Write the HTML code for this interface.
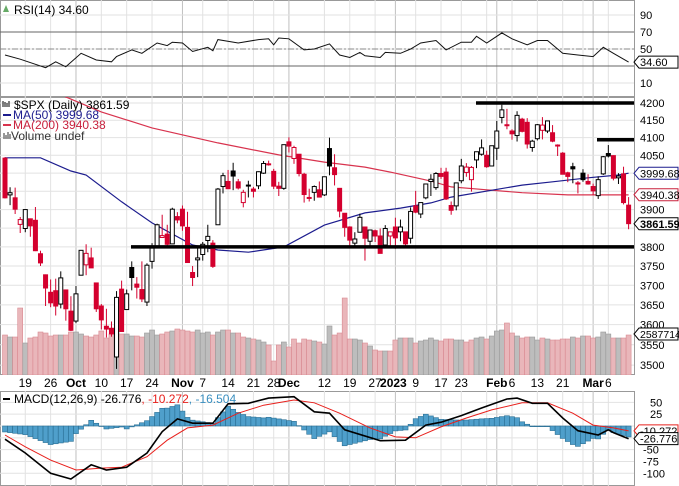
<!DOCTYPE html>
<html><head><meta charset="utf-8">
<style>
html,body{margin:0;padding:0;background:#fff;}
svg{display:block;font-family:"Liberation Sans","DejaVu Sans",sans-serif;}
</style></head>
<body>
<svg id="chart" width="679" height="486" viewBox="0 0 679 486" xmlns="http://www.w3.org/2000/svg"></svg>
<script>
// ---- data ----
const dates = ["Sep13","Sep14","Sep15","Sep16","Sep19","Sep20","Sep21","Sep22","Sep23","Sep26","Sep27","Sep28","Sep29","Sep30",
"Oct3","Oct4","Oct5","Oct6","Oct7","Oct10","Oct11","Oct12","Oct13","Oct14","Oct17","Oct18","Oct19","Oct20","Oct21","Oct24","Oct25","Oct26","Oct27","Oct28","Oct31",
"Nov1","Nov2","Nov3","Nov4","Nov7","Nov8","Nov9","Nov10","Nov11","Nov14","Nov15","Nov16","Nov17","Nov18","Nov21","Nov22","Nov23","Nov25","Nov28","Nov29","Nov30",
"Dec1","Dec2","Dec5","Dec6","Dec7","Dec8","Dec9","Dec12","Dec13","Dec14","Dec15","Dec16","Dec19","Dec20","Dec21","Dec22","Dec23","Dec27","Dec28","Dec29","Dec30",
"Jan3","Jan4","Jan5","Jan6","Jan9","Jan10","Jan11","Jan12","Jan13","Jan17","Jan18","Jan19","Jan20","Jan23","Jan24","Jan25","Jan26","Jan27","Jan30","Jan31",
"Feb1","Feb2","Feb3","Feb6","Feb7","Feb8","Feb9","Feb10","Feb13","Feb14","Feb15","Feb16","Feb17","Feb21","Feb22","Feb23","Feb24","Feb27","Feb28",
"Mar1","Mar2","Mar3","Mar6","Mar7","Mar8","Mar9","Mar10"];
const opens = [4042,3940,3932,3860,3849,3875,3871,3782,3727,3682,3686,3652,3688,3634,
3609,3726,3753,3771,3706,3647,3596,3591,3520,3690,3638,3746,3703,3689,3657,3762,3799,3825,3834,3808,3881,
3901,3852,3733,3766,3780,3817,3810,3859,3963,3977,4006,3976,3919,3967,3956,3965,4000,4024,4005,3964,3958,
4088,4041,4053,3997,3933,3947,3954,3940,4069,4015,3958,3890,3853,3810,3839,3853,3815,3843,3829,3805,3829,
3853,3840,3840,3823,3910,3888,3932,3977,3960,3999,4003,3911,3910,3979,4002,3982,4037,4053,4050,4020,
4070,4158,4137,4119,4106,4153,4144,4072,4097,4121,4119,4114,4077,4056,4001,4018,3973,4000,3977,
3963,3938,3998,4055,4049,3987,3998,3912];
const highs = [4045,3961,3960,3880,3900,3876,3907,3790,3728,3715,3717,3736,3688,3672,
3698,3792,3807,3798,3706,3652,3640,3608,3685,3712,3689,3762,3721,3762,3757,3810,3862,3886,3859,3905,3893,
3911,3894,3750,3796,3813,3859,3818,3959,4001,4009,4029,3984,3954,3979,3962,4005,4034,4035,4012,3976,4080,
4101,4077,4053,4001,3957,3966,3977,3990,4100,4053,3959,3890,3855,3839,3889,3853,3846,3846,3849,3858,3840,
3878,3873,3840,3906,3951,3919,3970,3997,4003,4015,4015,3922,3973,4040,4028,4020,4060,4095,4063,4077,
4148,4195,4183,4124,4176,4157,4156,4094,4139,4159,4149,4136,4081,4059,4004,4029,3978,4011,3997,
3971,3991,4048,4079,4050,4000,4018,3934];
const lows = [3930,3912,3888,3837,3839,3827,3789,3750,3647,3644,3623,3641,3610,3584,
3604,3726,3726,3745,3632,3588,3568,3570,3491,3584,3638,3687,3666,3657,3647,3743,3799,3824,3803,3808,3863,
3843,3758,3698,3721,3764,3786,3745,3859,3944,3956,3953,3955,3906,3933,3933,3956,3998,4021,3956,3937,3954,
4058,4026,3991,3919,3922,3924,3933,3937,3994,3966,3879,3827,3800,3797,3839,3764,3797,3813,3783,3805,3801,
3795,3815,3802,3809,3890,3877,3928,3937,3954,3984,3926,3886,3898,3972,3990,3949,4014,4049,4015,4020,
4037,4141,4124,4094,4089,4115,4069,4060,4092,4095,4113,4087,4048,3997,3975,3972,3944,3976,3968,
3940,3929,3995,4044,3980,3970,3914,3847];
const closes = [3932,3946,3901,3873,3900,3856,3790,3758,3693,3655,3647,3719,3640,3586,
3678,3791,3783,3745,3640,3612,3589,3577,3669,3583,3678,3720,3695,3665,3752,3797,3859,3830,3807,3901,3872,
3856,3759,3720,3771,3807,3828,3749,3956,3993,3957,3992,3959,3947,3965,3950,4004,4027,4026,3964,3958,4080,
4076,4072,3999,3941,3933,3963,3934,3990,4020,3996,3896,3852,3818,3821,3879,3823,3845,3829,3783,3849,3840,
3824,3853,3808,3895,3893,3919,3970,3983,3999,3991,3929,3898,3973,4020,4017,4016,4060,4071,4018,4077,
4119,4180,4136,4111,4164,4118,4082,4090,4137,4136,4148,4090,4079,3997,3991,4012,3970,3982,3970,
3951,3982,4046,4048,3986,3992,3919,3862];
const volumes = [40,38,38,67,32,37,38,43,42,39,40,40,40,43,
43,41,39,38,40,44,37,41,46,41,41,39,39,38,42,45,40,41,43,44,46,
45,44,43,45,42,43,40,43,45,45,42,42,38,37,36,35,33,30,14,30,33,
28,36,32,36,35,34,33,31,49,40,42,77,36,36,35,32,29,25,24,24,24,
35,37,37,37,32,34,35,37,35,34,36,36,35,35,33,35,37,38,36,39,
44,45,52,42,39,37,38,38,35,37,36,35,35,36,36,38,37,39,39,
37,38,43,41,37,37,37,40];
const ma50Idx = [0,7,13,16,23,29,37,42,48,55,63,71,78,84,88,102,108,115,121,123];
const ma50Val = [4043,4043,4006,3995,3921,3864,3805,3792,3786,3800,3858,3891,3904,3918,3934,3967,3976,3987,3995,4000];
const ma200Idx = [0,12,19,29,42,54,63,71,76,84,88,95,102,111,121,123];
const ma200Val = [4290,4218,4174,4128,4085,4051,4031,4017,4003,3978,3962,3954,3946,3940,3940,3940];
const rsiIdx = [0,3,8,10,12,15,18,21,22,25,27,30,32,33,35,37,40,41,42,46,50,52,53,54,56,59,61,64,66,68,70,71,74,75,78,80,82,85,87,90,92,93,95,98,100,103,105,107,110,113,116,118,120,123];
const rsiVal = [43,38,28,35,29,45,37,35,41,49,45,57,54,58,57,47,52,48,61,57,61,62,55,63,62,49,50,56,43,40,46,42,40,46,45,50,57,60,49,58,58,65,57,69,62,55,60,60,45,43,41,52,45,34.6];
const macdIdx = [0,4,9,13,17,20,24,28,31,34,37,41,44,48,52,57,61,64,67,74,79,83,86,90,94,99,101,104,107,110,113,117,119,120,123];
const macdVal = [-28,-57,-100,-112,-82,-93,-87,-57,-12,15,6,6,47,48,59,62,30,27,-8,-31,-30,2,8,22,38,57,59,48,48,17,-10,-19,-8,-14,-26.8];
const sigIdx = [0,4,9,14,19,23,28,32,36,41,46,51,57,61,66,72,77,81,86,91,96,102,107,112,116,120,123];
const sigVal = [-19,-44,-72,-93,-89,-87,-65,-30,-4,2,27,44,55,49,27,-4,-23,-25,-2,17,34,49,49,27,2,-4,-10.3];
const rsiTicks = [90,70,50,10];
const priceTicks = [4200,4150,4100,4050,4000,3950,3900,3850,3800,3750,3700,3650,3600,3550,3500];
const priceTickShown = [4200,4150,4100,4050,3900,3800,3750,3700,3650,3600,3550,3500];
const macdTicks = [50,25,0,-25,-50,-75,-100];
const macdTickShown = [50,25,-50,-75,-100];
const xLabels = [[4,"19",0],[9,"26",0],[14,"Oct",1],[19,"10",0],[24,"17",0],[29,"24",0],[35,"Nov",1],[39,"7",0],[44,"14",0],[49,"21",0],[53,"28",0],[56,"Dec",1],[63,"12",0],[68,"19",0],[73,"27",0],[77,"2023",1],[81,"9",0],[86,"17",0],[90,"23",0],[97,"Feb",1],[100,"6",0],[105,"13",0],[110,"21",0],[116,"Mar",1],[119,"6",0]];
const weekIdx = [4,9,19,24,29,39,44,49,53,63,68,73,81,86,90,95,100,105,110,114,119];
const monthIdx = [14,35,56,77,97,116];

// ---- layout ----
const NS="http://www.w3.org/2000/svg";
const svg=document.getElementById('chart');
const PR=634;
const X=i=>5+i*5.07;
const yP=p=>103+1438*Math.log(4200/p);
const yR=v=>49-(v-50)*0.85;
const yM=v=>426-v*0.473;
const yV=v=>375-v;
function mk(tag,attrs,parent){const e=document.createElementNS(NS,tag);for(const k in attrs)e.setAttribute(k,attrs[k]);(parent||svg).appendChild(e);return e;}
function txt(x,y,s,attrs,parent){const t=mk('text',Object.assign({x:x,y:y,'font-size':12,fill:'#000'},attrs||{}),parent);t.textContent=s;return t;}
function interp(idx,val,i){for(let k=0;k<idx.length-1;k++){if(i>=idx[k]&&i<=idx[k+1]){const f=(i-idx[k])/((idx[k+1]-idx[k])||1);return val[k]+f*(val[k+1]-val[k]);}}return val[val.length-1];}

const defs=mk('defs',{});
const c1=mk('clipPath',{id:'cp'},defs);mk('rect',{x:0,y:97,width:PR,height:278},c1);
const c2=mk('clipPath',{id:'cm'},defs);mk('rect',{x:0,y:391,width:PR,height:95},c2);

const panels=[['rsi-panel',0,97],['price-panel',97,278],['macd-panel',391,95]];
panels.forEach(p=>{const r=mk('rect',{x:0.5,y:p[1]+0.5,width:PR,height:p[2]-1,fill:'#fff',stroke:'#999'});});

const gridG=mk('g',{});

weekIdx.forEach(i=>{[[0,97],[97,375],[391,486]].forEach(s=>{mk('line',{x1:X(i),x2:X(i),y1:s[0],y2:s[1],stroke:'#e2e2e2'},gridG);});});
monthIdx.forEach(i=>{[[0,97],[97,375],[391,486]].forEach(s=>{mk('line',{x1:X(i),x2:X(i),y1:s[0],y2:s[1],stroke:'#c0c0c0'},gridG);});});

// RSI panel
rsiTicks.concat([30]).forEach(v=>{mk('line',{x1:0,x2:PR,y1:yR(v),y2:yR(v),stroke:'#e2e2e2'});});
[70,30].forEach(v=>{const l=mk('line',{x1:0,x2:PR,y1:yR(v),y2:yR(v),stroke:'#666'});});
const mid=mk('line',{x1:0,x2:PR,y1:yR(50),y2:yR(50),stroke:'#888','stroke-dasharray':'6,2,2,2'});

rsiTicks.forEach(v=>{const t=txt(640,yR(v)+4,String(v),{'font-size':11});});
let rp='';rsiIdx.forEach((i,k)=>{rp+=(k?'L':'M')+X(i).toFixed(1)+','+yR(rsiVal[k]).toFixed(1);});
const rl=mk('path',{d:rp,fill:'none',stroke:'#111','stroke-width':1});

const rsiTitle=txt(14,14,'RSI(14) 34.60');

mk('path',{d:'M3,12 L6,5 L9,12 Z',fill:'#6a6'});

// price grid
priceTicks.forEach(v=>{mk('line',{x1:0,x2:PR,y1:yP(v),y2:yP(v),stroke:'#e2e2e2'});});
priceTickShown.forEach(v=>{const t=txt(640,yP(v)+4,String(v),{'font-size':11});});

// volume
const vg=mk('g',{'clip-path':'url(#cp)'});

volumes.forEach((v,i)=>{const up=i===0?false:closes[i]>=closes[i-1];
 const r=mk('rect',{x:X(i)-2.5,y:yV(v),width:5,height:v,fill:up?'#bdbdbd':'#e9b6ba',stroke:up?'#9a9a9a':'#d98a92','stroke-width':0.6},vg);
 });

function ml(idx,val,color,name){let d='';idx.forEach((i,k)=>{d+=(k?'L':'M')+X(i).toFixed(1)+','+yP(val[k]).toFixed(1);});
 const p=mk('path',{d:d,fill:'none',stroke:color,'stroke-width':1.2,'clip-path':'url(#cp)'});}
ml(ma200Idx,ma200Val,'#d8334e','ma200-line');
ml(ma50Idx,ma50Val,'#1c1c8e','ma50-line');

// candles
const cg=mk('g',{'clip-path':'url(#cp)'});

closes.forEach((c,i)=>{const o=opens[i];const up=i===0?false:c>=closes[i-1];const col=up?'#000':'#d4002e';
 const x=X(i);const g=mk('g',{},cg);
 mk('line',{x1:x,x2:x,y1:yP(highs[i]),y2:yP(lows[i]),stroke:col,'stroke-width':1},g);
 const top=yP(Math.max(o,c)),bot=yP(Math.min(o,c));const hollow=c>=o;
 mk('rect',{x:x-2,y:top,width:4,height:Math.max(bot-top,1),fill:hollow?'#fff':col,stroke:col,'stroke-width':1},g);});

[[476,PR,4200,'resistance-line-4200'],[597,PR,4094,'resistance-line-4100'],[131,PR,3800,'support-line-3800']].forEach(a=>{
 const l=mk('line',{x1:a[0],x2:a[1],y1:yP(a[2]),y2:yP(a[2]),stroke:'#000','stroke-width':3.5});});

// legend
const lg=mk('g',{});
txt(14,109,'$SPX (Daily) 3861.59',{},lg);
mk('path',{d:'M3,101 v6 M5,102 v5 M7,103 v4 M9,101 v6',stroke:'#000','stroke-width':1},lg);
mk('line',{x1:3,x2:11,y1:115,y2:115,stroke:'#1c1c8e','stroke-width':2},lg);
txt(13,119,'MA(50) 3999.68',{fill:'#1c1c8e'},lg);
mk('line',{x1:3,x2:11,y1:125,y2:125,stroke:'#d8334e','stroke-width':2},lg);
txt(13,129,'MA(200) 3940.38',{fill:'#c8203c'},lg);
mk('path',{d:'M4,139 v-6 M6,139 v-4 M8,139 v-7 M10,139 v-5',stroke:'#777','stroke-width':1.5},lg);
txt(11,140,'Volume undef',{fill:'#333'},lg);

function tag(y,label,color,bold,name,fs){const g=mk('g',{});
 mk('path',{d:`M634,${y} L639,${y-6} L678,${y-6} L678,${y+6} L639,${y+6} Z`,fill:'#fff',stroke:color,'stroke-width':1},g);
 txt(640,y+4,label,{'font-size':fs||11,'font-weight':bold?'bold':'normal',fill:'#000'},g);}
tag(yR(34.6),'34.60','#000',false,'rsi-value-tag');
tag(yP(3999.68),'3999.68','#1c1c8e',false,'ma50-value-tag');
tag(yP(3940.38),'3940.38','#c8203c',false,'ma200-value-tag');
tag(yP(3861.59),'3861.59','#000',true,'price-value-tag');
tag(334,'2587714','#000',false,'volume-value-tag',10.5);

const xa=mk('g',{});
xLabels.forEach(l=>{txt(X(l[0])-(l[1]==='2023'?2:0),387,l[1],{'text-anchor':'middle','font-weight':l[2]?'bold':'normal','font-size':12},xa);});

// MACD panel
macdTicks.forEach(v=>{mk('line',{x1:0,x2:PR,y1:yM(v),y2:yM(v),stroke:'#e2e2e2'});});
macdTickShown.forEach(v=>{const t=txt(v<0?643:650,yM(v)+4,String(v),{'font-size':11});});
const hg=mk('g',{'clip-path':'url(#cm)'});
closes.forEach((c,i)=>{const h=(interp(macdIdx,macdVal,i)-interp(sigIdx,sigVal,i))*1.4;const y0=yM(0),y1=yM(h);
 const r=mk('rect',{x:X(i)-2.5,y:Math.min(y0,y1),width:5,height:Math.max(Math.abs(y1-y0),0.5),fill:'#4f9fcb',stroke:'#2a6f94','stroke-width':0.6},hg);
 });
function mline(idx,val,color,w,name){let d='';idx.forEach((i,k)=>{d+=(k?'L':'M')+X(i).toFixed(1)+','+yM(val[k]).toFixed(1);});
 const p=mk('path',{d:d,fill:'none',stroke:color,'stroke-width':w,'clip-path':'url(#cm)'});}
mline(sigIdx,sigVal,'#e8201c',1,'macd-signal-line');
mline(macdIdx,macdVal,'#000',1.6,'macd-line');
const mt=mk('text',{x:14,y:403,'font-size':12});
[['MACD(12,26,9) -26.776','#000'],[', -10.272','#e8201c'],[', -16.504','#3a8fc0']].forEach(s=>{const ts=mk('tspan',{fill:s[1]},mt);ts.textContent=s[0];});
mk('line',{x1:3,x2:10,y1:399,y2:399,stroke:'#000','stroke-width':2});
tag(yM(-10.272),'-10.272','#e8201c',false,'signal-value-tag');
tag(yM(-26.776),'-26.776','#000',false,'macd-value-tag');
</script>
</body></html>
